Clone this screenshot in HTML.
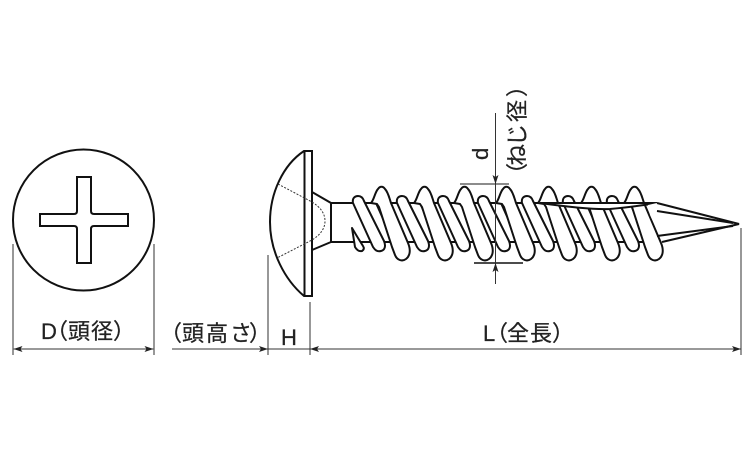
<!DOCTYPE html>
<html><head><meta charset="utf-8">
<style>html,body{margin:0;padding:0;background:#fff}svg{display:block}
text{font-family:"Liberation Sans","Noto Sans CJK JP",sans-serif;fill:#222;stroke:#222;stroke-width:.25px;font-size:22px}</style></head>
<body>
<svg width="750" height="450" viewBox="0 0 750 450" xmlns="http://www.w3.org/2000/svg">
<defs>
<path id="big" d="M-9 203 C-6 200 -5 192 -2 189 C0 186 3 186 5 189 C8 192 9 197 11 203 L28 243 C31 250 30 256 26 259 C22 262 17 260 15 255 L12 247 L-1 207 L-3 204 Z" fill="#fff" stroke="#111" stroke-width="2" stroke-linejoin="round"/>
<path id="small" d="M-5 203 C-6 198 -3 196 0 196 C3 196 5 198 6 201 L26 241 C28 246 27 250 23 251 C19 252 17 250 15 247 Z" fill="#fff" stroke="#111" stroke-width="2" stroke-linejoin="round"/>
<path id="root" d="M9 203 L26 241" fill="none" stroke="#111" stroke-width="2"/>
<marker id="a" markerWidth="9" markerHeight="6" refX="9" refY="3" orient="auto-start-reverse" markerUnits="userSpaceOnUse"><path d="M0 0 L9 3 L0 6 L2 3 Z" fill="#222"/></marker>
</defs>
<!-- head view -->
<circle cx="83.5" cy="220" r="70.5" fill="#fff" stroke="#111" stroke-width="2"/>
<path d="M77 177 H91 V211 Q91 214 94 214 H128 V226 H94 Q91 226 91 229 V263 H77 V229 Q77 226 74 226 H40 V214 H74 Q77 214 77 211 Z" fill="#fff" stroke="#111" stroke-width="2"/>
<!-- shank -->
<path d="M331 203 H545 M331 242 H660" fill="none" stroke="#111" stroke-width="2"/>
<!-- threads -->
<g>
<use href="#root" x="367"/><use href="#root" x="411"/><use href="#root" x="452"/><use href="#root" x="492"/><use href="#root" x="536"/><use href="#root" x="577"/><use href="#root" x="621"/>
<use href="#big" x="380"/><use href="#small" x="358"/>
<use href="#big" x="423"/><use href="#small" x="402"/>
<use href="#big" x="463"/><use href="#small" x="443"/>
<use href="#big" x="505"/><use href="#small" x="483"/>
<use href="#big" x="547"/><use href="#small" x="527"/>
<use href="#big" x="590"/><use href="#small" x="568"/>
<use href="#big" x="633"/><use href="#small" x="612"/>
</g>
<!-- slot at start of thread -->
<path d="M352 228 L355 247 Q358 252 362 251 Q365 249 363 246 L358 238 Z" fill="#fff" stroke="#111" stroke-width="2" stroke-linejoin="round"/>
<!-- taper wedge + tip -->
<path d="M540 203 H657 Q640 206 610 209 Q590 210 540 203 Z" fill="#fff" stroke="#111" stroke-width="2"/>
<path d="M657 203 L739 224 L662 242 Q657 230 650 215 L648 205 Z" fill="#fff" stroke="none"/>
<path d="M657 203 L739 224 L662 242" fill="none" stroke="#111" stroke-width="2"/>
<path d="M657 211 L733 223 M657 236 L733 226" fill="none" stroke="#111" stroke-width="2"/>
<!-- head side -->
<path d="M304 151 C283 165 270 193 270 222 C270 252 285 280 304 296" fill="none" stroke="#111" stroke-width="2"/>
<rect x="304.5" y="151" width="7.5" height="145" fill="#fff" stroke="#111" stroke-width="2"/>
<path d="M312 192 L331 203 V242 L312 250" fill="none" stroke="#111" stroke-width="2"/>
<path d="M278 184 L312 202 Q325 210 325 221 Q325 232 312 240 L277 258" fill="none" stroke="#333" stroke-width="1" stroke-dasharray="2 1.5"/>
<!-- extension lines -->
<path d="M13 244 V355 M154 244 V355 M268 255 V355 M310 302 V355 M741 228 V355" fill="none" stroke="#777" stroke-width="1.5"/>
<!-- dimension lines -->
<path d="M13.5 349 H153.5" stroke="#333" stroke-width="1" marker-start="url(#a)" marker-end="url(#a)"/>
<path d="M172 349 H268" stroke="#333" stroke-width="1" marker-end="url(#a)"/>
<path d="M268 349 H310" stroke="#333" stroke-width="1"/>
<path d="M310 349 H741" stroke="#333" stroke-width="1" marker-start="url(#a)" marker-end="url(#a)"/>
<!-- d dimension -->
<path d="M460 184 H509" stroke="#666" stroke-width="1.5"/>
<path d="M474 263 H523" stroke="#111" stroke-width="1.5"/>
<path d="M495.5 113 V184" stroke="#333" stroke-width="1" marker-end="url(#a)"/>
<path d="M495.5 184 V263" stroke="#333" stroke-width="1"/>
<path d="M495.5 284 V263" stroke="#333" stroke-width="1" marker-end="url(#a)"/>
<!-- labels -->
<text x="41" y="339">D</text>
<text x="46 68 91 113" y="339">（頭径）</text>
<text x="160 182 206 230 249" y="341">（頭高さ）</text>
<text x="281" y="345">H</text>
<text x="483" y="341">L</text>
<text x="486 507 530 552" y="341">（全長）</text>
<text transform="translate(488 160) rotate(-90)">d</text>
<text transform="translate(525 180) rotate(-90)" x="-5 14 34 58 83">（ねじ径）</text>
</svg>
</body></html>
